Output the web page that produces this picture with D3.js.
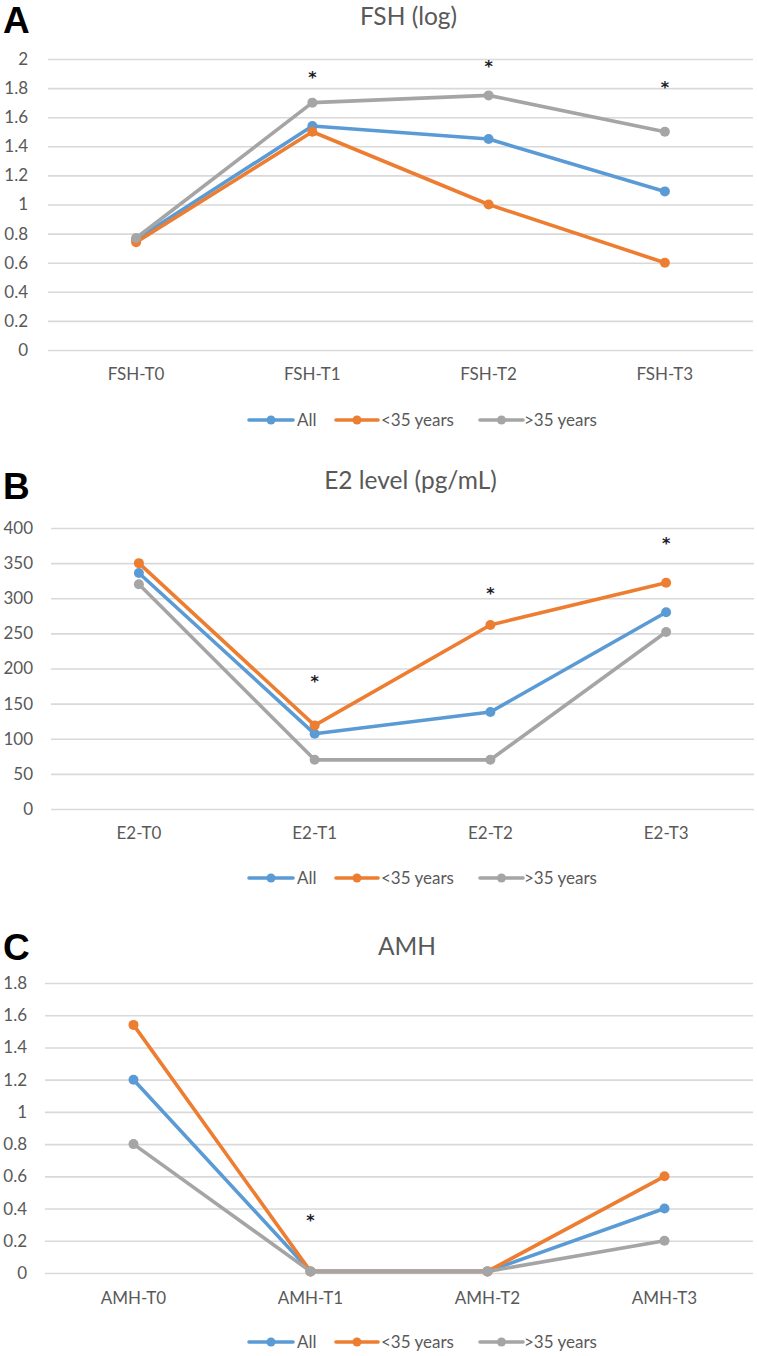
<!DOCTYPE html>
<html><head><meta charset="utf-8">
<script src="https://cdn.jsdelivr.net/npm/d3@7"></script>
<style>body{margin:0;background:#fff}svg{display:block}</style>
</head><body>
<svg id="c" width="757" height="1356"></svg>
<script>
const seriesNames = ["All", "<35 years", ">35 years"];
const colors = ["#5B9BD5", "#ED7D31", "#A5A5A5"];

const fshCats = ["FSH-T0", "FSH-T1", "FSH-T2", "FSH-T3"];
const fshAll = [0.76, 1.54, 1.45, 1.09];
const fshYoung = [0.74, 1.50, 1.00, 0.60];
const fshOld = [0.77, 1.70, 1.75, 1.50];
const fshTicks = [0, 0.2, 0.4, 0.6, 0.8, 1, 1.2, 1.4, 1.6, 1.8, 2];
const fshStars = [["FSH-T1", 1.90], ["FSH-T2", 1.97], ["FSH-T3", 1.83]];

const e2Cats = ["E2-T0", "E2-T1", "E2-T2", "E2-T3"];
const e2All = [336, 107, 138, 280];
const e2Young = [350, 119, 262, 322];
const e2Old = [320, 70, 70, 252];
const e2Ticks = [0, 50, 100, 150, 200, 250, 300, 350, 400];
const e2Stars = [["E2-T1", 186], ["E2-T2", 312], ["E2-T3", 383]];

const amhCats = ["AMH-T0", "AMH-T1", "AMH-T2", "AMH-T3"];
const amhAll = [1.20, 0.01, 0.01, 0.40];
const amhYoung = [1.54, 0.01, 0.01, 0.60];
const amhOld = [0.80, 0.01, 0.01, 0.20];
const amhTicks = [0, 0.2, 0.4, 0.6, 0.8, 1, 1.2, 1.4, 1.6, 1.8];
const amhStars = [["AMH-T1", 0.35]];

const svg = d3.select("#c");
const FONT = "Lato, 'Open Sans', sans-serif";
const TXT = "#595959";
const FS = 17;

function panel(o) {
  const g = svg.append("g");
  const x = d3.scaleBand().domain(o.cats).range([o.x0, o.x1]);
  const y = d3.scaleLinear().domain([0, o.ticks[o.ticks.length - 1]]).range([o.yb, o.yt]);
  const cx = c => x(c) + x.bandwidth() / 2;

  // panel letter
  g.append("text").attr("x", 3).attr("y", o.letterY).text(o.letter)
    .attr("font-family", "'Liberation Sans', Arial, sans-serif").attr("font-weight", "bold")
    .attr("font-size", 37).attr("fill", "#000");
  // title
  g.append("text").attr("x", (o.x0 + o.x1) / 2 + 8).attr("y", o.titleY).attr("text-anchor", "middle")
    .attr("font-family", FONT).attr("font-size", 24.5).attr("fill", TXT).text(o.title);

  // grid + y axis
  const ya = d3.axisLeft(y).tickValues(o.ticks).tickSize(-(o.x1 - o.x0)).tickPadding(o.pad)
    .tickFormat(d3.format("~g"));
  const ag = g.append("g").attr("transform", `translate(${o.x0},0)`).call(ya);
  ag.select(".domain").remove();
  ag.selectAll(".tick line").attr("stroke", "#D9D9D9").attr("stroke-width", 1.6);
  ag.selectAll(".tick text").attr("font-family", FONT).attr("font-size", FS).attr("fill", TXT);

  // x axis labels
  const xa = d3.axisBottom(x).tickSize(0).tickPadding(0);
  const xg = g.append("g").attr("transform", `translate(0,${o.catY})`).call(xa);
  xg.select(".domain").remove();
  xg.selectAll(".tick text").attr("font-family", FONT).attr("font-size", FS).attr("fill", TXT).attr("dy", "0");

  // lines
  const line = d3.line().x((d, i) => cx(o.cats[i])).y(d => y(d));
  o.series.forEach((s, k) => {
    g.append("path").attr("d", line(s)).attr("fill", "none").attr("stroke", colors[k])
      .attr("stroke-width", 3.6).attr("stroke-linejoin", "round");
    g.selectAll(null).data(s).enter().append("circle")
      .attr("cx", (d, i) => cx(o.cats[i])).attr("cy", d => y(d)).attr("r", 5).attr("fill", colors[k]);
  });

  // stars
  g.selectAll(null).data(o.stars).enter().append("text")
    .attr("x", d => cx(d[0])).attr("y", d => y(d[1]) + 9).attr("text-anchor", "middle")
    .attr("font-family", "'DejaVu Sans', sans-serif").attr("font-size", 16).attr("font-weight", "bold")
    .attr("fill", "#1a1a2a").text("*");

  // legend
  const lx = [[249, 293, 297], [336, 378, 381], [480, 523, 524]];
  seriesNames.forEach((n, k) => {
    const [a, b, t] = lx[k];
    g.append("line").attr("x1", a).attr("x2", b).attr("y1", o.legY).attr("y2", o.legY)
      .attr("stroke", colors[k]).attr("stroke-width", 3.6).attr("stroke-linecap", "round");
    g.append("circle").attr("cx", (a + b) / 2).attr("cy", o.legY).attr("r", 4.5).attr("fill", colors[k]);
    g.append("text").attr("x", t).attr("y", o.legY + 6).attr("font-family", FONT).attr("font-size", FS)
      .attr("fill", TXT).text(n);
  });
}

panel({letter: "A", letterY: 33, title: "FSH (log)", titleY: 25, cats: fshCats,
  series: [fshAll, fshYoung, fshOld], ticks: fshTicks, stars: fshStars,
  x0: 48, x1: 753, yb: 350, yt: 59, pad: 20, catY: 380, legY: 420});
panel({letter: "B", letterY: 499, title: "E2 level (pg/mL)", titleY: 489, cats: e2Cats,
  series: [e2All, e2Young, e2Old], ticks: e2Ticks, stars: e2Stars,
  x0: 51, x1: 754, yb: 809, yt: 528, pad: 18, catY: 839, legY: 878});
panel({letter: "C", letterY: 960, title: "AMH", titleY: 955, cats: amhCats,
  series: [amhAll, amhYoung, amhOld], ticks: amhTicks, stars: amhStars,
  x0: 45, x1: 753, yb: 1273, yt: 983, pad: 18, catY: 1304, legY: 1342});
</script>
</body></html>
